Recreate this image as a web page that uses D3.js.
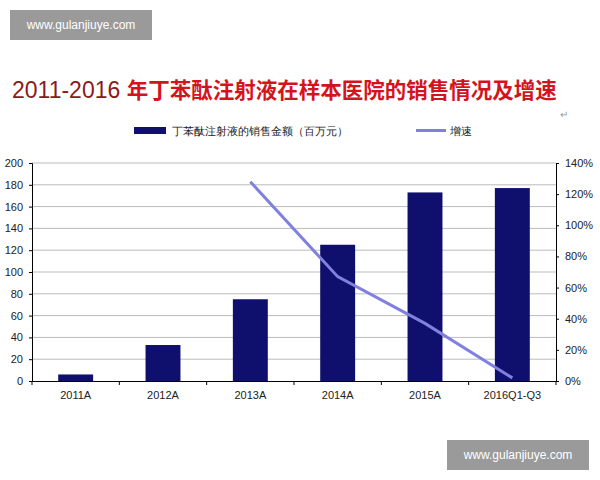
<!DOCTYPE html>
<html><head><meta charset="utf-8">
<script src="https://cdn.jsdelivr.net/npm/d3@7"></script>
<style>body{margin:0;background:#fff}text{font-family:"Liberation Sans",Arial,sans-serif}</style>
</head><body><div id="container"></div>
<script>
var categories = ["2011A","2012A","2013A","2014A","2015A","2016Q1-Q3"];
var sales = [6, 33, 75, 125, 173, 177];
var growth = [null, null, 1.28, 0.67, 0.37, 0.02];
var leftTicks = [0,20,40,60,80,100,120,140,160,180,200];
var rightTicks = [0,0.2,0.4,0.6,0.8,1.0,1.2,1.4];

var W = 600, H = 480;
var mLeft = 32, mRight = 556, mTop = 163, mBottom = 381;

var svg = d3.select("#container").append("svg").attr("width", W).attr("height", H);

// title
var title = svg.append("text").attr("x", 12).attr("y", 98).attr("font-size", 23);
title.append("tspan").attr("fill", "#8b1a1a").text("2011-2016 ");
title.append("tspan").attr("fill", "#d4141c").attr("font-weight", "bold")
  .attr("font-family", "Noto Sans CJK SC").attr("font-size", 21.5).text("年丁苯酞注射液在样本医院的销售情况及增速");
svg.append("text").attr("x", 560).attr("y", 118).attr("font-size", 10).attr("fill", "#999").text("↵");

// legend
svg.append("rect").attr("x", 134).attr("y", 127).attr("width", 32).attr("height", 7).attr("fill", "#0f0f6e");
svg.append("text").attr("x", 172).attr("y", 135).attr("font-size", 11).attr("fill", "#222")
  .attr("font-family", "Noto Sans CJK SC").text("丁苯酞注射液的销售金额（百万元）");
svg.append("line").attr("x1", 416).attr("x2", 446).attr("y1", 130.5).attr("y2", 130.5)
  .attr("stroke", "#8080e0").attr("stroke-width", 3);
svg.append("text").attr("x", 450).attr("y", 135).attr("font-size", 11).attr("fill", "#222")
  .attr("font-family", "Noto Sans CJK SC").text("增速");

var x = d3.scaleBand().domain(categories).range([mLeft, mRight]).paddingInner(0.6).paddingOuter(0.3);
var xb = d3.scaleBand().domain(categories).range([mLeft, mRight]);
var yL = d3.scaleLinear().domain([0, 200]).range([mBottom, mTop]);
var yR = d3.scaleLinear().domain([0, 1.4]).range([mBottom, mTop]);

// grid
svg.append("g").selectAll("line").data(leftTicks.slice(1)).enter().append("line")
  .attr("x1", mLeft).attr("x2", mRight).attr("y1", function(d){ return yL(d); }).attr("y2", function(d){ return yL(d); })
  .attr("stroke", "#bbb").attr("stroke-width", 1);

svg.append("g").selectAll("rect").data(sales).enter().append("rect")
  .attr("x", function(d, i){ return x(categories[i]); })
  .attr("width", x.bandwidth())
  .attr("y", function(d){ return yL(d); })
  .attr("height", function(d){ return mBottom - yL(d); })
  .attr("fill", "#0f0f6e");

var line = d3.line().defined(function(d){ return d != null; })
  .x(function(d, i){ return xb(categories[i]) + xb.bandwidth() / 2; })
  .y(function(d){ return yR(d); });
svg.append("path").datum(growth).attr("d", line).attr("fill", "none")
  .attr("stroke", "#8080e0").attr("stroke-width", 3);

var ax = svg.append("g").attr("transform", "translate(0," + mBottom + ")")
  .call(d3.axisBottom(xb).tickSize(0).tickPadding(10));
ax.selectAll(".tick").append("line").attr("x1", -xb.bandwidth()/2).attr("x2", -xb.bandwidth()/2).attr("y2", 4).attr("stroke", "#000");
ax.append("line").attr("x1", mRight).attr("x2", mRight).attr("y2", 4).attr("stroke", "#000");

var al = svg.append("g").attr("transform", "translate(" + mLeft + ",0)")
  .call(d3.axisLeft(yL).tickValues(leftTicks).tickSize(3).tickPadding(6));
var ar = svg.append("g").attr("transform", "translate(" + mRight + ",0)")
  .call(d3.axisRight(yR).tickValues(rightTicks).tickSize(3).tickPadding(6).tickFormat(d3.format(".0%")));
[ax, al, ar].forEach(function(g){
  g.selectAll("text").attr("font-size", 11).attr("fill", "#222");
  g.select(".domain").attr("stroke", "#000");
});

// watermarks
function mark(x0, y0){
  svg.append("rect").attr("x", x0).attr("y", y0).attr("width", 142).attr("height", 30).attr("fill", "#9a9a9a");
  svg.append("text").attr("x", x0 + 71).attr("y", y0 + 19).attr("text-anchor", "middle")
    .attr("font-size", 12).attr("fill", "#fff").text("www.gulanjiuye.com");
}
mark(10, 10);
mark(447, 440);
</script></body></html>
